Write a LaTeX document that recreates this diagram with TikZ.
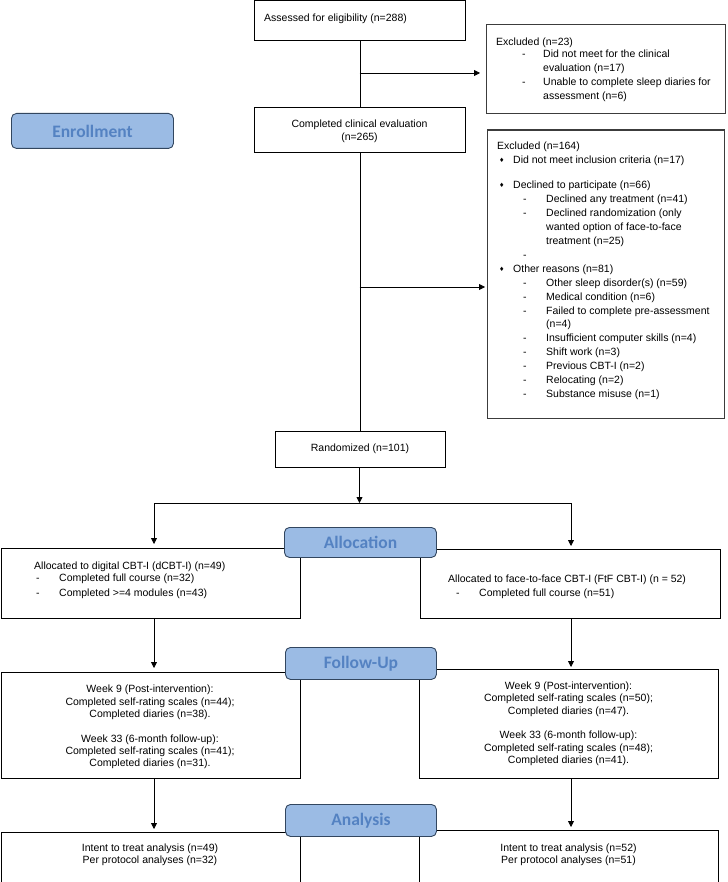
\documentclass[tikz,border=0pt]{standalone}
\usepackage{fontspec}
\setmainfont{Liberation Sans}
\newfontfamily\lblfont{Carlito}
\newfontfamily\symfont{DejaVu Sans}
\usetikzlibrary{arrows.meta}
\definecolor{lblfill}{RGB}{155,187,228}
\definecolor{lbltext}{RGB}{84,130,194}
\definecolor{lbldraw}{RGB}{50,70,95}
\definecolor{exdraw}{RGB}{60,60,60}
\newcommand\leftlines[2]{\vtop{\baselineskip=#1\lineskiplimit=-20pt\lineskip=0pt\halign{##\hfil\cr#2\crcr}}}
\newcommand\ctrlines[2]{\vtop{\baselineskip=#1\lineskiplimit=-20pt\lineskip=0pt\halign{\hfil##\hfil\cr#2\crcr}}}
\newcommand\dia{{\symfont\fontsize{6}{6}\selectfont\raisebox{0.8pt}{♦}}}
\tikzset{
  box/.style={draw, line width=0.8pt, inner sep=0pt, anchor=north west},
  exbox/.style={box, draw=exdraw, line width=1.1pt},
  lbl/.style={draw=lbldraw, fill=lblfill, rounded corners=5pt, line width=0.9pt,
    text=lbltext, inner sep=0pt, anchor=north west,
    font=\lblfont\bfseries\fontsize{17.5pt}{20pt}\selectfont},
  txt/.style={inner sep=0pt, font=\fontsize{10.5pt}{12.6pt}\selectfont},
  arr/.style={line width=0.8pt, -{Triangle[length=6pt,width=6pt]}},
  conn/.style={line width=0.8pt}
}
\begin{document}
\begin{tikzpicture}[x=1pt,y=-1pt]
\useasboundingbox (0,0) rectangle (727,882);
% boxes
\node[box, minimum width=211pt, minimum height=39.5pt] (assess) at (254,0.5) {};
\node[exbox, minimum width=239pt, minimum height=89pt] (excl23) at (486,24) {};
\node[box, minimum width=211pt, minimum height=45pt] (compl) at (254,107) {};
\node[exbox, minimum width=237pt, minimum height=288.5pt] (excl164) at (487,129.5) {};
\node[box, minimum width=170pt, minimum height=36pt] (rand) at (275,431) {};
\node[box, minimum width=299.5pt, minimum height=70pt] (allocL) at (0.5,548) {};
\node[box, minimum width=300pt, minimum height=69pt] (allocR) at (420,549) {};
\node[box, minimum width=299.5pt, minimum height=106pt] (fuL) at (0.5,672) {};
\node[box, minimum width=299pt, minimum height=109pt] (fuR) at (419,669) {};
\node[box, minimum width=299.5pt, minimum height=49.5pt] (anL) at (0.5,832) {};
\node[box, minimum width=299pt, minimum height=51.5pt] (anR) at (419,830) {};
% texts
\node[txt, anchor=base west] (tassess) at (264,21.1) {Assessed for eligibility (n=288)};
\node[txt, anchor=base west] (t23) at (496,45.5) {\leftlines{14.3pt}{Excluded (n=23)\cr\noalign{\vskip-2.7pt}
\hspace*{26pt}\makebox[21pt][l]{-}Did not meet for the clinical\cr
\hspace*{47pt}evaluation (n=17)\cr
\hspace*{26pt}\makebox[21pt][l]{-}Unable to complete sleep diaries for\cr
\hspace*{47pt}assessment (n=6)}};
\node[txt, anchor=base] (tcompl) at (359.5,127.8) {\ctrlines{12.7pt}{Completed clinical evaluation\cr(n=265)}};
\node[txt, anchor=base west] (t164) at (497,149.8) {\leftlines{13.93pt}{Excluded (n=164)\cr
\hspace*{2pt}\makebox[14pt][l]{\dia}Did not meet inclusion criteria (n=17)\cr\noalign{\vskip 11pt}
\hspace*{2pt}\makebox[14pt][l]{\dia}Declined to participate (n=66)\cr
\hspace*{26pt}\makebox[23pt][l]{-}Declined any treatment (n=41)\cr
\hspace*{26pt}\makebox[23pt][l]{-}Declined randomization (only\cr
\hspace*{49pt}wanted option of face-to-face\cr
\hspace*{49pt}treatment (n=25)\cr
\hspace*{26pt}-\cr
\hspace*{2pt}\makebox[14pt][l]{\dia}Other reasons (n=81)\cr
\hspace*{26pt}\makebox[23pt][l]{-}Other sleep disorder(s) (n=59)\cr
\hspace*{26pt}\makebox[23pt][l]{-}Medical condition (n=6)\cr
\hspace*{26pt}\makebox[23pt][l]{-}Failed to complete pre-assessment\cr
\hspace*{49pt}(n=4)\cr
\hspace*{26pt}\makebox[23pt][l]{-}Insufficient computer skills (n=4)\cr
\hspace*{26pt}\makebox[23pt][l]{-}Shift work (n=3)\cr
\hspace*{26pt}\makebox[23pt][l]{-}Previous CBT-I (n=2)\cr
\hspace*{26pt}\makebox[23pt][l]{-}Relocating (n=2)\cr
\hspace*{26pt}\makebox[23pt][l]{-}Substance misuse (n=1)}};
\node[txt, anchor=base] (trand) at (360,451.8) {Randomized (n=101)};
\node[txt, anchor=base west] (tallocL) at (34,569.5) {\leftlines{15pt}{Allocated to digital CBT-I (dCBT-I) (n=49)\cr\noalign{\vskip-3.3pt}
\hspace*{2pt}\makebox[23pt][l]{-}Completed full course (n=32)\cr
\hspace*{2pt}\makebox[23pt][l]{-}Completed >=4 modules (n=43)}};
\node[txt, anchor=base west] (tallocR) at (448,582.8) {\leftlines{13.3pt}{Allocated to face-to-face CBT-I (FtF CBT-I) (n = 52)\cr
\hspace*{8pt}\makebox[23pt][l]{-}Completed full course (n=51)}};
\node[txt, anchor=base] (tfuL) at (150,692.8) {\ctrlines{12.3pt}{Week 9 (Post-intervention):\cr
Completed self-rating scales (n=44);\cr
Completed diaries (n=38).\cr
\cr
Week 33 (6-month follow-up):\cr
Completed self-rating scales (n=41);\cr
Completed diaries (n=31).}};
\node[txt, anchor=base] (tfuR) at (568.5,689.5) {\ctrlines{12.3pt}{Week 9 (Post-intervention):\cr
Completed self-rating scales (n=50);\cr
Completed diaries (n=47).\cr
\cr
Week 33 (6-month follow-up):\cr
Completed self-rating scales (n=48);\cr
Completed diaries (n=41).}};
\node[txt, anchor=base] (tanL) at (150,851.8) {\ctrlines{12pt}{Intent to treat analysis (n=49)\cr
Per protocol analyses (n=32)}};
\node[txt, anchor=base] (tanR) at (568.5,851.8) {\ctrlines{12pt}{Intent to treat analysis (n=52)\cr
Per protocol analyses (n=51)}};
% connectors
\draw[conn] (assess.south) -- (compl.north);
\coordinate (j23) at (359.5,73);
\draw[arr, shorten >=6pt] (j23) -- (j23 -| excl23.west);
\draw[conn] (compl.south) -- (compl.south |- rand.north);
\coordinate (j164) at (359.5,287);
\draw[arr, shorten >=2pt] (j164) -- (j164 -| excl164.west);
\coordinate (split) at (359.5,503);
\draw[arr] (rand.south -| split) -- (split);
\coordinate (xl) at (154,503);
\coordinate (xr) at (571,503);
\draw[conn] (xl) -- (xr);
\draw[arr, shorten >=4pt] (xl) -- (xl |- allocL.north);
\draw[arr, shorten >=3pt] (xr) -- (xr |- allocR.north);
\draw[arr, shorten >=4pt] (allocL.south -| xl) -- (xl |- fuL.north);
\draw[arr, shorten >=2pt] (allocR.south -| xr) -- (xr |- fuR.north);
\draw[arr, shorten >=3pt] (fuL.south -| xl) -- (xl |- anL.north);
\draw[arr, shorten >=3pt] (fuR.south -| xr) -- (xr |- anR.north);
% stage labels
\node[lbl, minimum width=162pt, minimum height=35pt] (enroll) at (11,113) {Enrollment};
\node[lbl, minimum width=152pt, minimum height=30pt] (allocLbl) at (284,527) {Allocation};
\node[lbl, minimum width=151pt, minimum height=32pt] (fuLbl) at (285,647) {Follow-Up};
\node[lbl, minimum width=151pt, minimum height=32pt] (anLbl) at (285,804) {Analysis};
\end{tikzpicture}
\end{document}
